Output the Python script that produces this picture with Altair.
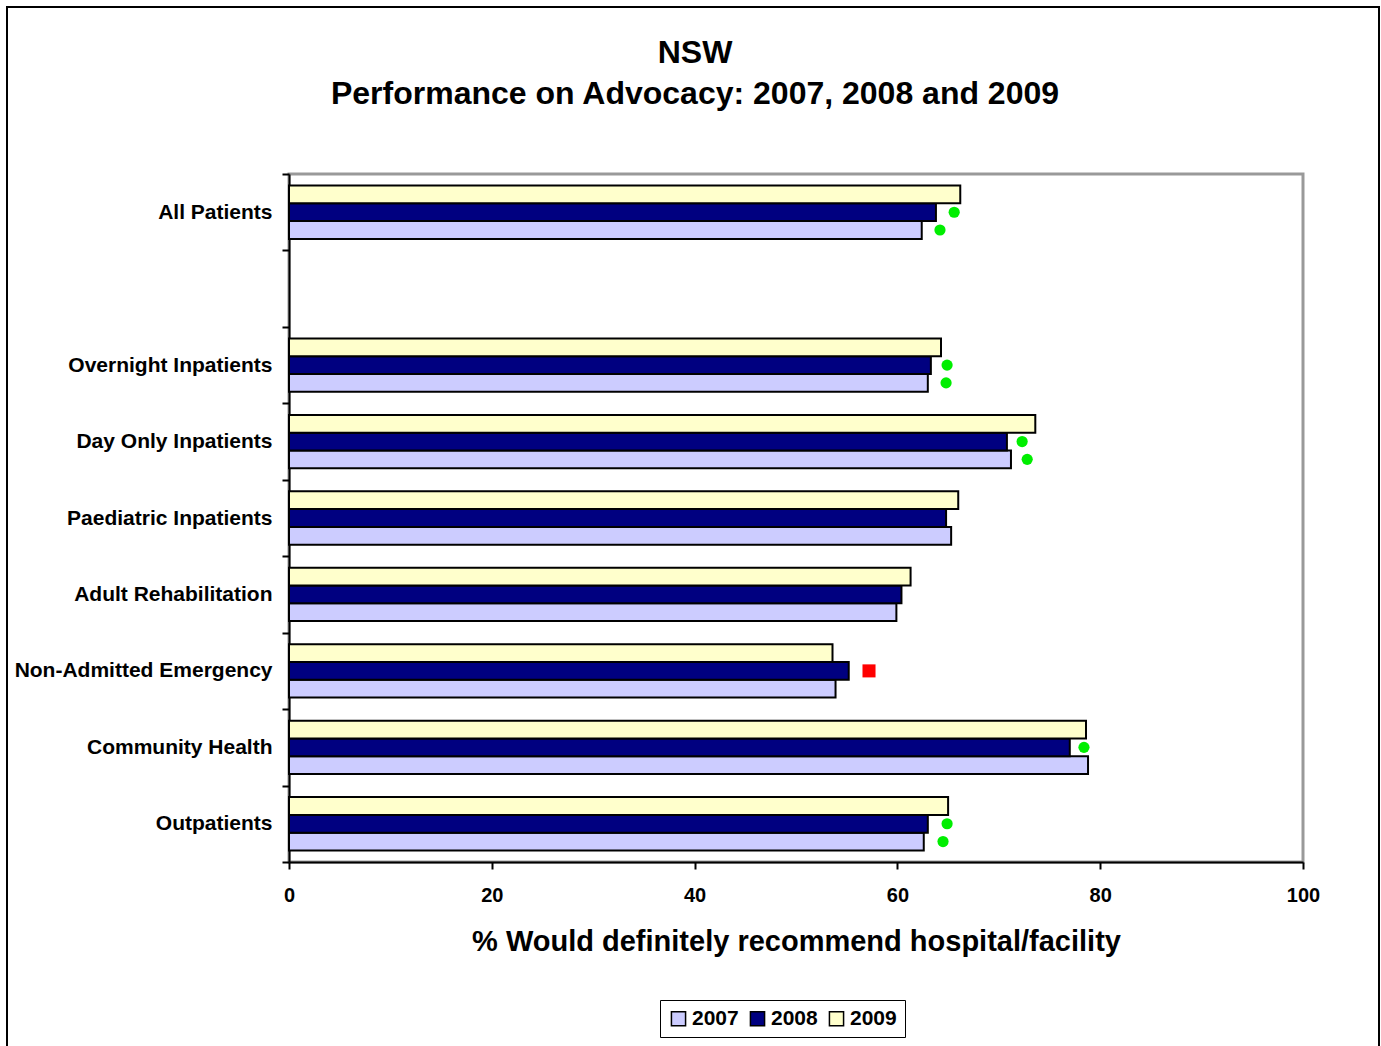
import altair as alt
import pandas as pd

# Categories top to bottom (the blank entry leaves an empty slot)
categories = [
    "All Patients",
    " ",
    "Overnight Inpatients",
    "Day Only Inpatients",
    "Paediatric Inpatients",
    "Adult Rehabilitation",
    "Non-Admitted Emergency",
    "Community Health",
    "Outpatients",
]
years = ["2007", "2008", "2009"]

# % who would definitely recommend the hospital/facility
v2007 = [62.4, None, 63.0, 71.2, 65.3, 59.9, 53.9, 78.8, 62.6]
v2008 = [63.8, None, 63.3, 70.8, 64.8, 60.4, 55.2, 77.0, 63.0]
v2009 = [66.2, None, 64.3, 73.6, 66.0, 61.3, 53.6, 78.6, 65.0]

# Significance markers: category, year, value, direction
sig_category = ["All Patients", "All Patients", "Overnight Inpatients", "Overnight Inpatients",
                "Day Only Inpatients", "Day Only Inpatients", "Non-Admitted Emergency",
                "Community Health", "Outpatients", "Outpatients"]
sig_year = ["2008", "2007", "2008", "2007", "2008", "2007", "2008", "2008", "2008", "2007"]
sig_value = [65.6, 64.2, 64.9, 64.8, 72.3, 72.8, 57.2, 78.4, 64.9, 64.5]
sig_dir = ["up", "up", "up", "up", "up", "up", "down", "up", "up", "up"]

title_lines = ["NSW", "Performance on Advocacy: 2007, 2008 and 2009"]

colors = ["#CCCCFF", "#000080", "#FFFFCC"]
FONT = "Liberation Sans"

rows = []
for yr, vals in zip(years, [v2007, v2008, v2009]):
    for c, v in zip(categories, vals):
        if v is not None:
            rows.append({"category": c, "year": yr, "value": v})
bars_df = pd.DataFrame(rows)

sig_df = pd.DataFrame({"category": sig_category, "year": sig_year,
                       "value": sig_value, "dir": sig_dir})

y_enc = alt.Y(
    "category:N",
    sort=categories,
    scale=alt.Scale(domain=categories, paddingInner=0, paddingOuter=0),
    axis=alt.Axis(
        title=None, labelFont=FONT, labelFontSize=21, labelFontWeight="bold",
        labelColor="black", labelPadding=10, tickSize=7, tickWidth=2,
        tickColor="black", tickBand="extent", domainColor="black",
        domainWidth=2, grid=False, labelLimit=400,
    ),
)
yoff_enc = alt.YOffset(
    "year:N", sort=["2009", "2008", "2007"],
    scale=alt.Scale(domain=["2009", "2008", "2007"], paddingInner=0, paddingOuter=0.65),
)
x_enc = alt.X(
    "value:Q",
    scale=alt.Scale(domain=[0, 100], nice=False),
    axis=alt.Axis(
        title="% Would definitely recommend hospital/facility",
        titleFont=FONT, titleFontSize=29, titleFontWeight="bold", titleColor="black",
        titlePadding=22, values=[0, 20, 40, 60, 80, 100], labelFont=FONT,
        labelFontSize=20, labelFontWeight="bold", labelColor="black",
        labelPadding=16, labelFlush=False, tickSize=7, tickWidth=2,
        tickColor="black", domainColor="black", domainWidth=2, grid=False,
    ),
)

bars = alt.Chart(bars_df).mark_bar(stroke="black", strokeWidth=2).encode(
    x=x_enc,
    y=y_enc,
    yOffset=yoff_enc,
    color=alt.Color(
        "year:N",
        scale=alt.Scale(domain=years, range=colors),
        legend=alt.Legend(
            title=None, orient="none", direction="horizontal",
            legendX=371, legendY=826, symbolType="square", symbolSize=200,
            symbolStrokeColor="black", symbolStrokeWidth=1.5,
            labelFont=FONT, labelFontSize=21, labelFontWeight="bold",
            labelColor="black", strokeColor="black", padding=8,
            columnPadding=8, labelOffset=3,
        ),
    ),
)

up = alt.Chart(sig_df).transform_filter(alt.datum.dir == "up").mark_point(
    shape="circle", filled=True, color="#00EE00", size=125, opacity=1
).encode(x="value:Q", y=alt.Y("category:N", sort=categories), yOffset=yoff_enc)

down = alt.Chart(sig_df).transform_filter(alt.datum.dir == "down").mark_point(
    shape="square", filled=True, color="#FF0000", size=170, opacity=1
).encode(x="value:Q", y=alt.Y("category:N", sort=categories), yOffset=yoff_enc)

# Outer frame around the whole figure
frame = alt.Chart(pd.DataFrame({"f": [0]})).mark_rect(
    fill="white", fillOpacity=0, stroke="black", strokeWidth=2
).encode(
    x=alt.value(-282), x2=alt.value(1090), y=alt.value(-167), y2=alt.value(900)
)

# Two-line heading above the plot
heading1 = alt.Chart(pd.DataFrame({"t": [title_lines[0]]})).mark_text(
    font=FONT, fontSize=32, fontWeight="bold", color="black", align="center", baseline="middle"
).encode(text="t:N", x=alt.value(406), y=alt.value(-121))
heading2 = alt.Chart(pd.DataFrame({"t": [title_lines[1]]})).mark_text(
    font=FONT, fontSize=32, fontWeight="bold", color="black", align="center", baseline="middle"
).encode(text="t:N", x=alt.value(406), y=alt.value(-80))

chart = (
    alt.layer(frame, heading1, heading2, bars, up, down)
    .properties(
        width=1014,
        height=688,
        padding={"left": 6, "top": 6, "right": 0, "bottom": 0},
        background="white",
    )
    .configure_view(stroke="#999999", strokeWidth=3)
)

chart.save("out.html", embed_options={"renderer": "svg", "actions": False})
